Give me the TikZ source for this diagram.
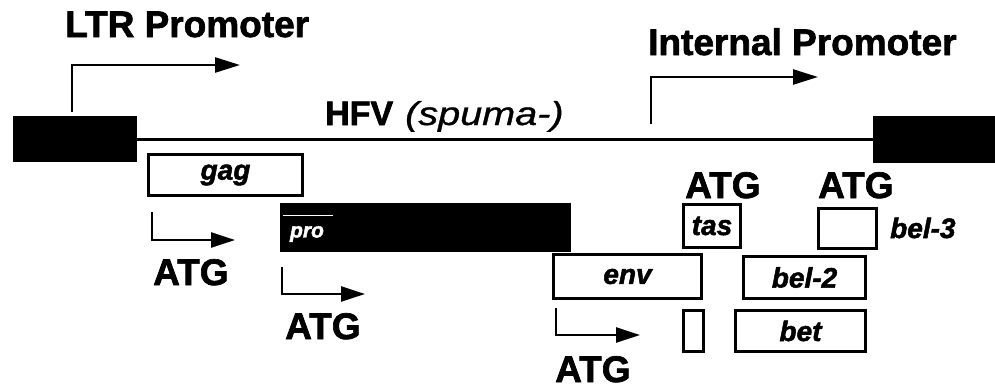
\documentclass[tikz,border=0pt]{standalone}
\usepackage{fontspec}
\setmainfont[BoldFeatures={FakeBold=1.8},BoldItalicFeatures={FakeBold=1.8}]{Liberation Sans}
\usetikzlibrary{arrows.meta}
\begin{document}
\begin{tikzpicture}[x=1pt,y=-1pt,
  gene/.style={draw,line width=2.8pt,inner sep=0pt,font=\fontsize{28}{28}\selectfont\bfseries\itshape},
  solid box/.style={fill=black,draw=black,inner sep=0pt},
  big/.style={font=\fontsize{37}{37}\selectfont\bfseries,inner sep=0pt,anchor=base west},
  lab/.style={font=\fontsize{28}{28}\selectfont\bfseries\itshape,inner sep=0pt,anchor=base west},
  prom/.style={line width=2.5pt,-{Triangle[length=25pt,width=15pt]}},
  atgarr/.style={line width=2.5pt,-{Triangle[length=24pt,width=15pt]}},
]
\useasboundingbox (0,0) rectangle (995,388);
% LTR blocks and genome line
\node[solid box,minimum width=123pt,minimum height=45pt] (ltrL) at (74.5,139) {};
\node[solid box,minimum width=122pt,minimum height=46pt] (ltrR) at (934,139) {};
\draw[line width=3pt] (ltrL.east) -- (ltrR.west);
% titles
\node[big] (ltrtxt) at (65,37) {LTR Promoter};
\node[big] (inttxt) at (648,55) {Internal Promoter};
\node[big,font=\fontsize{34}{34}\selectfont\bfseries] (hfv) at (325,125) {HFV};
\node[inner sep=0pt,anchor=base west,font=\fontsize{33}{33}\selectfont\itshape\addfontfeatures{FakeBold=0.8}] (spuma) at (405,125) {\scalebox{1.2}[1]{(spuma-)}};
% promoter arrows
\coordinate (p1s) at (72,112);
\coordinate (p1e) at (240,65);
\draw[prom] (p1s) |- (p1e);
\coordinate (p2s) at (651,124);
\coordinate (p2e) at (818,77);
\draw[prom] (p2s) |- (p2e);
% genes
\node[gene,minimum width=154pt,minimum height=41pt] (gag) at (225.5,175) {gag};
\node[solid box,minimum width=290pt,minimum height=48pt] (pol) at (425,227) {};
\node[inner sep=0pt,text=white,font=\fontsize{21}{21}\selectfont\bfseries\itshape] (pro) at (307,234) {pro};
\draw[white,line width=1pt] ([xshift=3pt,yshift=12pt]pol.west) -- ++(50,0) coordinate (proline);
\node[gene,minimum width=148pt,minimum height=44pt] (env) at (627.5,276.5) {env};
\node[gene,minimum width=57pt,minimum height=43pt] (tas) at (712,226) {tas};
\node[gene,minimum width=58pt,minimum height=40pt] (bel3) at (847.5,228.5) {};
\node[lab] (bel3txt) at (890,238) {bel-3};
\node[gene,minimum width=122pt,minimum height=42pt] (bel2) at (804.5,277.5) {bel-2};
\node[gene,minimum width=20pt,minimum height=41pt] (small) at (693.5,331) {};
\node[gene,minimum width=130pt,minimum height=41pt] (bet) at (800.5,331) {bet};
% ATG start arrows
\coordinate (a1s) at (152,212);
\coordinate (a1e) at (235,240);
\draw[atgarr] (a1s) |- (a1e);
\coordinate (a2s) at (282,267);
\coordinate (a2e) at (365,294);
\draw[atgarr] (a2s) |- (a2e);
\coordinate (a3s) at (556,308);
\coordinate (a3e) at (640,335);
\draw[atgarr] (a3s) |- (a3e);
% ATG labels
\node[big] (atg1) at (153,285) {ATG};
\node[big] (atg2) at (285,339) {ATG};
\node[big] (atg3) at (555,382) {ATG};
\node[big] (atg4) at (685,198) {ATG};
\node[big] (atg5) at (818,198) {ATG};
\end{tikzpicture}
\end{document}
